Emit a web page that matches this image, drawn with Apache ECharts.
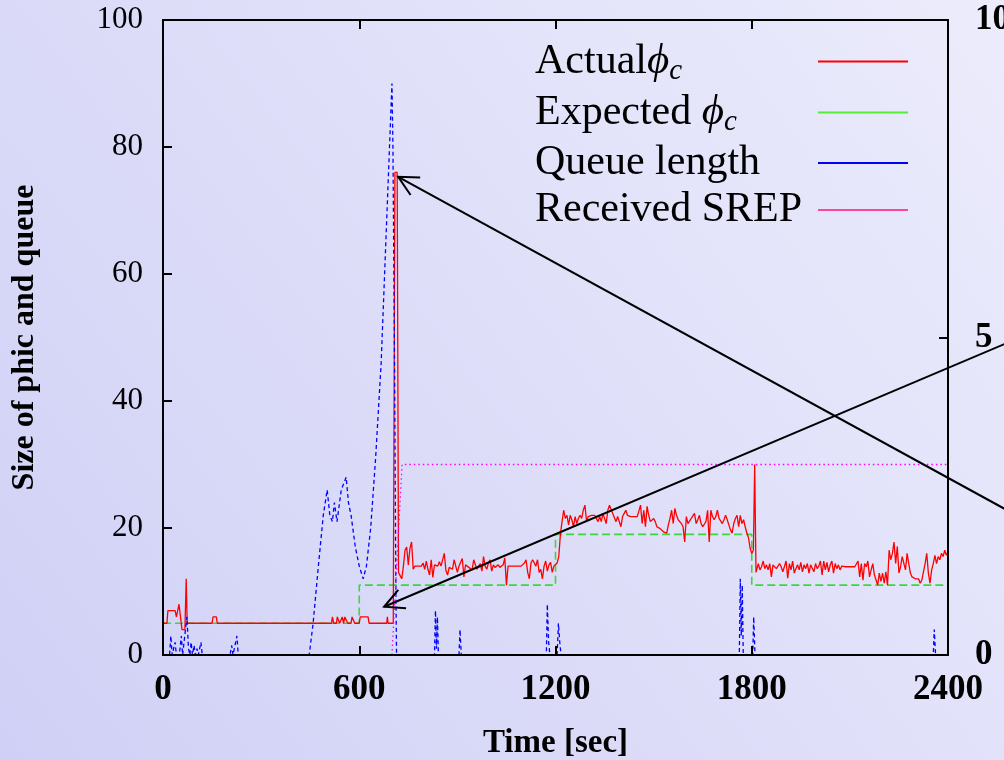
<!DOCTYPE html>
<html>
<head>
<meta charset="utf-8">
<script src="https://cdn.jsdelivr.net/npm/echarts@6/dist/echarts.min.js"></script>
<style>
  html, body { margin: 0; padding: 0; }
  #chart { width: 1004px; height: 760px; }
</style>
</head>
<body>
<div id="chart"></div>
<script>
// ---- data --------------------------------------------------------------
const xTickValues = [0, 600, 1200, 1800, 2400];

// Expected phi_c (step function), [time, size]
const expectedPhic = [[0, 5], [600, 5], [600, 11], [1200, 11], [1200, 19], [1800, 19], [1800, 11], [2400, 11]];

// Received SREP, [time, size]
const receivedSrep = [[700, 0], [731, 30], [2400, 30]];

// Queue length, [time, size]
const queueLength = [
  [0, 0], [20, 0], [24, 3], [28, 0], [37, 2], [41, 0], [50, 0], [56, 3], [60, 0], [66, 0], [73, 6], [78, 1],
  [82, 0], [86, 2], [90, 0], [95, 1.5], [99, 0], [104, 1], [108, 0], [116, 2], [120, 0], [205, 0], [210, 1.5],
  [214, 0], [220, 0], [226, 3], [230, 0], [447, 0], [459, 5], [475, 14], [490, 22], [502, 26], [510, 22],
  [518, 21], [524, 24], [532, 21], [545, 26], [560, 28], [567, 24], [575, 22], [588, 17], [600, 14], [612, 12],
  [622, 14], [635, 20], [650, 31], [667, 46], [685, 70], [700, 90], [703, 80], [708, 45], [712, 10], [714, 0],
  [830, 0], [833, 7], [836, 1], [839, 6], [842, 0], [905, 0], [908, 4], [912, 0], [1172, 0], [1175, 8],
  [1179, 2], [1183, 0], [1205, 0], [1209, 5], [1213, 2], [1217, 0], [1762, 0], [1765, 12], [1768, 3],
  [1771, 11], [1774, 0], [1803, 0], [1806, 6], [1810, 0], [2355, 0], [2358, 4], [2362, 0], [2400, 0]
];

// Actual phi_c: start-up phase and the two switching spikes as [time, size]
const actualLead = [
  [0, 5], [12, 5], [15, 7], [37, 7], [41, 6], [49, 8], [58, 4], [67, 4], [71, 12], [74, 5], [150, 5],
  [153, 6], [163, 6], [166, 5], [515, 5], [518, 6], [522, 5], [530, 5], [533, 6], [537, 6], [540, 5],
  [548, 6], [552, 5], [556, 6], [562, 6], [565, 5], [575, 5], [578, 6], [583, 6], [586, 5], [600, 5],
  [603, 6], [627, 6], [630, 5], [684, 5], [686, 6], [688, 5], [704, 5], [709, 76], [716, 76], [720, 13]
];
const actualSwitch = [[1800, 16], [1805, 16.5], [1809, 30], [1813, 13]];

// Actual phi_c sampled every 5 s on the three plateaus
const sampleStep = 5;
const plateau1Start = 725;
const plateau1 = [
  12.5, 12, 14, 16.5, 17, 14.2, 16.8, 17.8, 13.5, 14, 13.8, 14, 14, 14, 14.5, 13.5, 14.8, 13.5, 12.6, 15,
  12.2, 14.2, 14.5, 14, 14.7, 14, 13.8, 16, 13.3, 12.6, 13.8, 14, 13.5, 15, 15.2, 13, 14, 14, 15.2, 12.3,
  14.2, 14.5, 13.8, 14, 13.4, 15, 14.2, 13.5, 14, 14.4, 13.2, 15.5, 14, 13.5, 14.5, 15, 13.2, 14.2, 13.8, 14,
  14.2, 13.8, 14, 14.2, 15.3, 11, 14, 14.2, 14, 14, 14, 14, 14, 14, 14, 14, 14.5, 15, 13, 12,
  14.5, 15, 15.3, 14, 15, 13, 13.5, 12, 14, 14.8, 13.2, 14.2, 14.6, 13, 14, 14.2
];
const plateau2Start = 1205;
const plateau2 = [
  14.5, 15.5, 19, 21, 22.8, 21.5, 22, 20.5, 22, 21.3, 20.2, 21.8, 20.7, 21.5, 22, 21.5, 22.8, 23.6, 21, 21.8,
  22, 22, 22, 22, 22, 21, 21.8, 21, 22.3, 21.5, 20.7, 22.8, 23.6, 23.9, 22.3, 22.6, 21, 21.8, 22, 20.2,
  21.8, 22.3, 22.8, 22, 21.8, 21.8, 21.8, 21.8, 21.8, 21.8, 21.8, 23.6, 20.7, 22.8, 20.2, 23.4, 22, 21, 20.7, 21.5,
  21, 20.2, 20, 19.9, 19.6, 19.4, 19.2, 19.2, 20.5, 21.5, 22.8, 20.7, 23.1, 22, 21.3, 21, 20.7, 20.2, 17.8, 21.8,
  20.7, 21, 21.5, 21.5, 22.3, 20.7, 21.3, 22, 20.7, 20.2, 20.2, 21, 22.8, 17.8, 22.8, 21.8, 21.3, 21.8, 22.8, 21.5,
  21.3, 20.7, 21.3, 22, 21.3, 20.5, 19.7, 19.2, 20.7, 21.5, 22, 20.2, 22, 20.7, 21.3, 20.2, 19.2, 18.5, 16.8
];
const plateau3Start = 1815;
const plateau3 = [
  12.9, 14.4, 13.4, 13.9, 14.8, 13.6, 14.2, 13.4, 14.4, 12.3, 14.2, 13.9, 13.6, 13.4, 14.4, 13.9, 13.1, 12.9, 14.8, 12.1,
  14.4, 13.4, 14.8, 12.9, 13.6, 14.2, 13.4, 14.6, 13.1, 14.2, 13.6, 14.4, 12.9, 14.2, 14.2, 13.1, 14.4, 13.6, 14, 14.8,
  12.6, 14.8, 13.4, 14.6, 13.1, 14.2, 14.8, 12.9, 14.4, 13.6, 14.2, 13.4, 14, 13.9, 13.9, 13.9, 13.9, 13.9, 13.9, 13.9,
  13.9, 13.9, 14.8, 12.3, 14.4, 11.8, 14.4, 13.9, 14.8, 12.3, 13.4, 14.4, 12.6, 11.8, 11, 12.9, 11.6, 12.9, 11.3, 13.1,
  11, 16.5, 15, 16, 17.8, 14.4, 17.1, 12.9, 13.9, 15.5, 15.7, 13.4, 16, 14.4, 12.9, 12.3, 12, 12, 12, 12,
  11.3, 11.8, 12, 14.4, 16, 12.9, 11.3, 13.4, 14.4, 15.7, 14.4, 15.5, 15, 16, 15.5, 16.5, 15.7, 16.3
];

// Annotation arrows: [tip, a point the shaft passes through] in data units
const arrowPeak = [[719, 75.3], [2400, 27.9]];
const arrowStep = [[676, 7.6], [2400, 45.2]];

const seriesNames = ['Actual ϕc', 'Expected ϕc', 'Queue length', 'Received SREP'];
const legendColors = ['#ff0000', '#55ee33', '#0000ff', '#ff4499'];

// ---- build the red series from its pieces ------------------------------
function sampled(start, values) {
  return values.map((v, i) => [start + i * sampleStep, v]);
}
const actualPhic = [].concat(
  actualLead,
  sampled(plateau1Start, plateau1),
  sampled(plateau2Start, plateau2),
  actualSwitch,
  sampled(plateau3Start, plateau3)
);

// ---- chart -------------------------------------------------------------
const SERIF = '"Liberation Serif", "DejaVu Serif", serif';
const chart = echarts.init(document.getElementById('chart'), null, { renderer: 'canvas' });

const axisLine = { show: true, onZero: false, lineStyle: { color: '#000', width: 2 } };
const innerTick = { show: true, inside: true, length: 9, lineStyle: { color: '#000', width: 2 } };
const plain = v => String(v);

const legendLabels = {
  'Actual ϕc': '{t|Actual}{p|ϕ}{s|c}',
  'Expected ϕc': '{t|Expected }{p|ϕ}{s|c}',
  'Queue length': '{t|Queue length}',
  'Received SREP': '{t|Received SREP}'
};

const option = {
  animation: false,
  backgroundColor: new echarts.graphic.LinearGradient(1, 0, 0, 1, [
    { offset: 0, color: '#ececfc' },
    { offset: 1, color: '#d0d0f6' }
  ]),
  grid: { left: 163, right: 56, top: 20, bottom: 105, show: false, containLabel: false, outerBoundsMode: 'none' },
  legend: {
    orient: 'vertical',
    left: 535,
    top: 40,
    padding: 0,
    align: 'right',
    itemGap: 5,
    itemWidth: 90,
    itemHeight: 2,
    icon: 'rect',
    selectedMode: false,
    data: seriesNames.map((name, i) => ({ name, itemStyle: { color: legendColors[i] } })),
    formatter: name => legendLabels[name],
    textStyle: {
      width: 278,
      color: '#000',
      fontFamily: SERIF,
      fontSize: 42,
      rich: {
        t: { fontFamily: SERIF, fontSize: 42, color: '#000', align: 'left', lineHeight: 49 },
        p: { fontFamily: SERIF, fontSize: 43, fontStyle: 'italic', color: '#000', align: 'left', lineHeight: 49 },
        s: { fontFamily: SERIF, fontSize: 29, fontStyle: 'italic', color: '#000', align: 'left', verticalAlign: 'bottom', lineHeight: 22 }
      }
    }
  },
  xAxis: [
    {
      type: 'value', position: 'bottom', min: 0, max: 2400, interval: 600, z: 10,
      axisLine, axisTick: innerTick, splitLine: { show: false },
      axisLabel: {
        color: '#000', fontFamily: SERIF, fontSize: 35, fontWeight: 'bold', margin: 17,
        formatter: plain
      },
      name: 'Time [sec]', nameLocation: 'middle', nameGap: 72,
      nameTextStyle: { color: '#000', fontFamily: SERIF, fontSize: 33, fontWeight: 'bold' }
    },
    {
      type: 'value', position: 'top', min: 0, max: 2400, interval: 600, z: 10,
      axisLine, axisTick: innerTick, axisLabel: { show: false }, splitLine: { show: false }
    }
  ],
  yAxis: [
    {
      type: 'value', position: 'left', min: 0, max: 100, interval: 20, z: 10,
      axisLine, axisTick: innerTick, splitLine: { show: false },
      axisLabel: { color: '#000', fontFamily: SERIF, fontSize: 31, margin: 20, formatter: plain },
      name: 'Size of phic and queue', nameLocation: 'middle', nameGap: 122, nameRotate: 90,
      nameTextStyle: { color: '#000', fontFamily: SERIF, fontSize: 32, fontWeight: 'bold' }
    },
    {
      type: 'value', position: 'right', min: 0, max: 10, interval: 5, z: 10,
      axisLine, axisTick: innerTick, splitLine: { show: false },
      axisLabel: {
        color: '#000', fontFamily: SERIF, fontSize: 35, fontWeight: 'bold', margin: 27,
        padding: [6, 0, 0, 0], formatter: plain
      }
    }
  ],
  series: [
    {
      name: seriesNames[0], type: 'line', data: actualPhic, symbol: 'none', z: 3,
      lineStyle: { color: '#ff0000', width: 1.3 }, itemStyle: { color: '#ff0000' }
    },
    {
      name: seriesNames[1], type: 'line', data: expectedPhic, symbol: 'none', z: 2,
      lineStyle: { color: '#3ad83a', width: 1.6, type: [8, 4] }, itemStyle: { color: '#3ad83a' }
    },
    {
      name: seriesNames[2], type: 'line', data: queueLength, symbol: 'none', z: 4,
      lineStyle: { color: '#0000ff', width: 1.3, type: [4, 3] }, itemStyle: { color: '#0000ff' }
    },
    {
      name: seriesNames[3], type: 'line', data: receivedSrep, symbol: 'none', z: 4,
      lineStyle: { color: '#ff00ff', width: 1.3, type: [1.5, 3] }, itemStyle: { color: '#ff00ff' }
    }
  ]
};

chart.setOption(option);

// ---- annotation arrows, placed through the axes' own scales ------------
function arrowElements(def) {
  const tip = chart.convertToPixel({ xAxisIndex: 0, yAxisIndex: 0 }, def[0]);
  const via = chart.convertToPixel({ xAxisIndex: 0, yAxisIndex: 0 }, def[1]);
  const dx = via[0] - tip[0], dy = via[1] - tip[1];
  const len = Math.hypot(dx, dy);
  const ux = dx / len, uy = dy / len;
  const reach = (1012 - tip[0]) / ux;
  const tail = [tip[0] + ux * reach, tip[1] + uy * reach];
  const headLen = 22, spread = 27 * Math.PI / 180;
  const arm = a => [
    tip[0] + headLen * (ux * Math.cos(a) - uy * Math.sin(a)),
    tip[1] + headLen * (ux * Math.sin(a) + uy * Math.cos(a))
  ];
  const stroke = { stroke: '#000', lineWidth: 2, fill: null };
  return [
    { type: 'polyline', z: 10, shape: { points: [tip, tail] }, style: stroke, silent: true },
    { type: 'polyline', z: 10, shape: { points: [arm(spread), tip, arm(-spread)] }, style: stroke, silent: true }
  ];
}

chart.setOption({
  graphic: { elements: [].concat(arrowElements(arrowPeak), arrowElements(arrowStep)) }
});
</script>
</body>
</html>
